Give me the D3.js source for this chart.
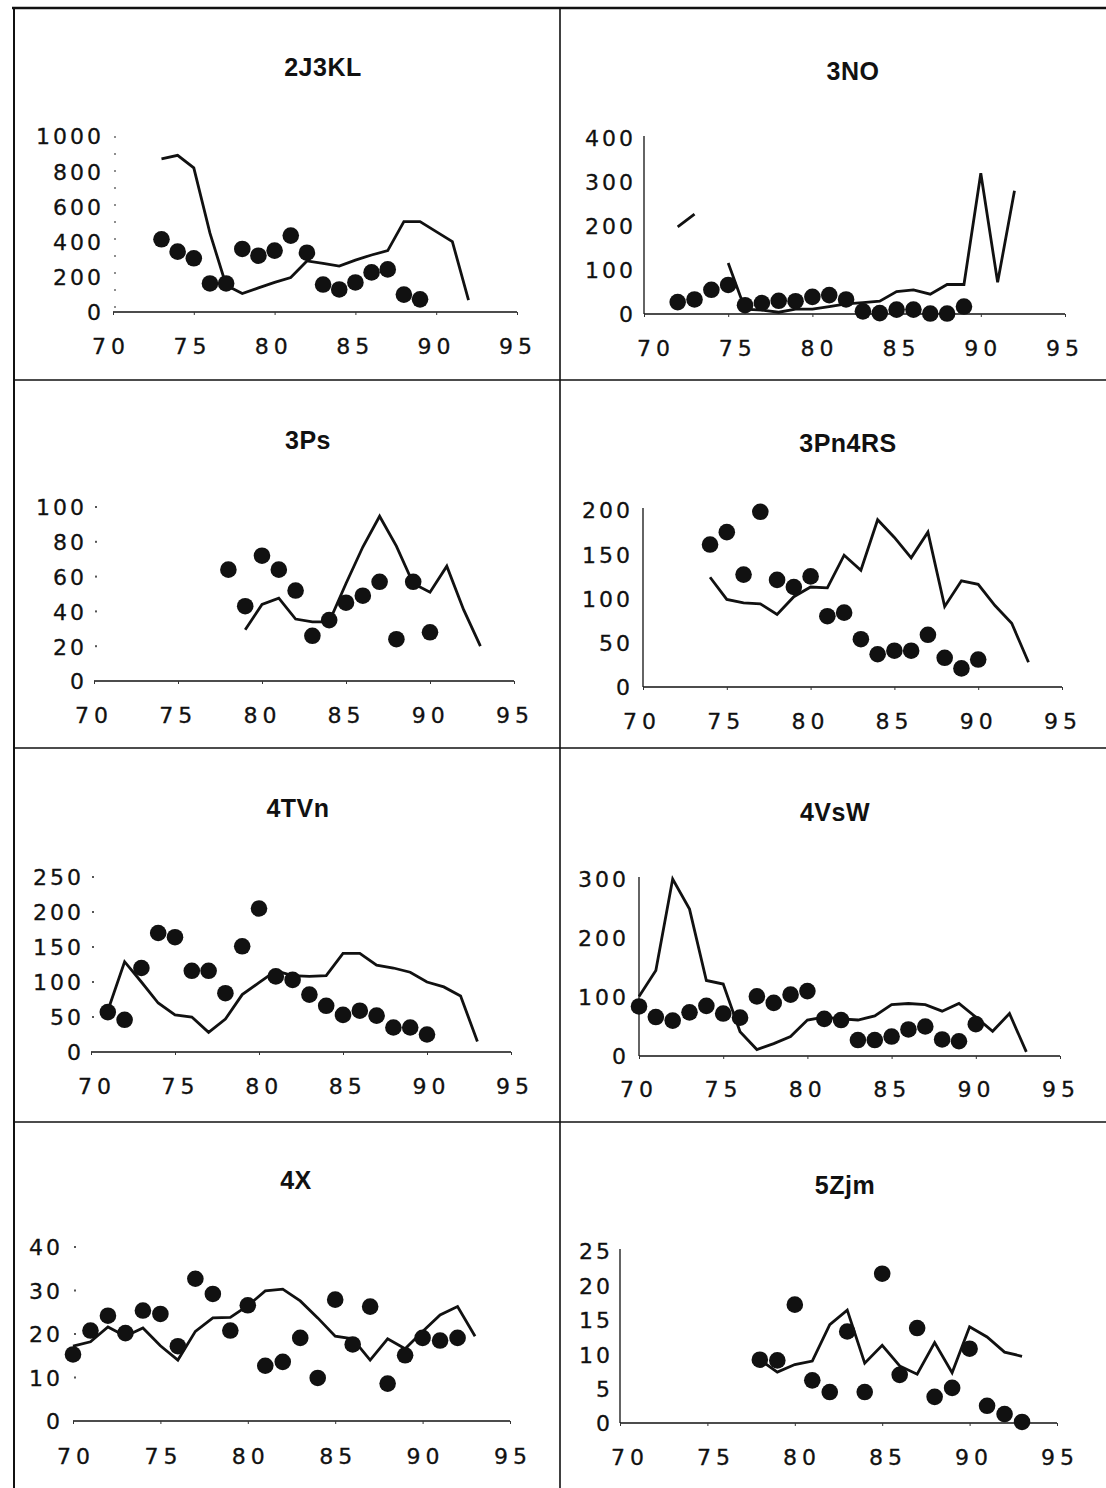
<!DOCTYPE html>
<html>
<head>
<meta charset="utf-8">
<script src="https://cdn.jsdelivr.net/npm/d3@7"></script>
<style>
body { margin: 0; background: #fff; }
svg { display: block; }
.tick-label text { font-family: "DejaVu Sans", "Liberation Sans", Arial, sans-serif; font-size: 22px; fill: #111; stroke: #111; stroke-width: 0.3px; }
.x-label text { letter-spacing: 5px; }
.y-label text { letter-spacing: 3px; }
.panel-title { font-family: "Liberation Sans", Arial, sans-serif; font-weight: bold; font-size: 25px; letter-spacing: 0.5px; fill: #111; }
</style>
</head>
<body>
<svg id="chart" width="1106" height="1488"></svg>
<script>
// ----------------------------------------------------------------------------
// Data (years 19xx)
// ----------------------------------------------------------------------------

var panelNames = ["2J3KL", "3NO", "3Ps", "3Pn4RS", "4TVn", "4VsW", "4X", "5Zjm"];
var xTicks = [70, 75, 80, 85, 90, 95];

var yTicks2J3KL = [0, 200, 400, 600, 800, 1000];
var yTicks3NO = [0, 100, 200, 300, 400];
var yTicks3Ps = [0, 20, 40, 60, 80, 100];
var yTicks3Pn4RS = [0, 50, 100, 150, 200];
var yTicks4TVn = [0, 50, 100, 150, 200, 250];
var yTicks4VsW = [0, 100, 200, 300];
var yTicks4X = [0, 10, 20, 30, 40];
var yTicks5Zjm = [0, 5, 10, 15, 20, 25];

// First year of each dot series and each line series.
var dotStart = [73, 72, 78, 74, 71, 70, 70, 78];
var lineStart = [73, 72, 79, 74, 71, 70, 70, 78];

var dots2J3KL = [413, 343, 305, 162, 162, 358, 320, 349, 434, 337, 156, 128, 168, 225, 242, 99, 72];
var line2J3KL = [870, 890, 819, 448, 152, 105, 137, 168, 196, 290, 276, 261, 295, 324, 349, 514, 514, 457, 400, 67];

var dots3NO = [27, 33, 55, 66, 20, 25, 30, 29, 39, 43, 33, 6, 2, 10, 10, 1, 1, 17];
var line3NO = [198, 227, null, 116, 11, 9, 4, 11, 11, 17, 23, 26, 29, 51, 55, 45, 67, 67, 320, 72, 280];

var dots3Ps = [64, 43, 72, 64, 52, 26, 35, 45, 49, 57, 24, 57, 28];
var line3Ps = [29.5, 44, 47.6, 35.6, 34, 34, 56, 77, 94.7, 77.5, 56, 51, 66, 41, 20];

var dots3Pn4RS = [161, 175, 127, 198, 121, 113, 125, 80, 84, 54, 37, 41, 41, 59, 33, 21, 31];
var line3Pn4RS = [124, 99, 95, 94, 82, 102, 113, 112, 149, 132, 189, 169, 146, 175, 91, 120, 116, 92, 72, 28];

var dots4TVn = [57, 46, 120, 170, 164, 116, 116, 84, 151, 205, 108, 103, 82, 66, 53, 59, 52, 35, 35, 25];
var line4TVn = [59, 129, 100, 70, 53, 50, 28, 47, 82, 99, 116, 109, 108, 109, 141, 141, 124, 120, 114, 100, 93, 80, 15];

var dots4VsW = [84, 66, 60, 74, 85, 72, 65, 101, 90, 104, 110, 63, 61, 27, 27, 33, 45, 50, 28, 25, 54];
var line4VsW = [101, 145, 300, 249, 128, 122, 41, 11, 21, 33, 61, 66, 63, 61, 68, 87, 89, 87, 76, 89, 66, 42, 72, 7];

var dots4X = [15.3, 20.8, 24.2, 20.2, 25.4, 24.6, 17.2, 32.7, 29.2, 20.8, 26.6, 12.7, 13.6, 19.1, 9.9, 27.9, 17.6, 26.3, 8.6, 15.1, 19.1, 18.5, 19.1];
var line4X = [17.2, 18.2, 21.6, 19.5, 21.4, 17.3, 14, 20.6, 23.7, 23.8, 26.5, 29.9, 30.3, 27.6, 23.7, 19.5, 18.9, 14, 18.9, 16.6, 20.6, 24.4, 26.3, 19.5];

var dots5Zjm = [9.2, 9.1, 17.2, 6.2, 4.5, 13.3, 4.5, 21.7, 7, 13.8, 3.8, 5.1, 10.8, 2.5, 1.3, 0.15];
var line5Zjm = [9.2, 7.4, 8.5, 9, 14.3, 16.4, 8.7, 11.3, 8.3, 7.1, 11.7, 7.3, 14, 12.5, 10.3, 9.7];

var allYTicks = [yTicks2J3KL, yTicks3NO, yTicks3Ps, yTicks3Pn4RS, yTicks4TVn, yTicks4VsW, yTicks4X, yTicks5Zjm];
var allDots = [dots2J3KL, dots3NO, dots3Ps, dots3Pn4RS, dots4TVn, dots4VsW, dots4X, dots5Zjm];
var allLines = [line2J3KL, line3NO, line3Ps, line3Pn4RS, line4TVn, line4VsW, line4X, line5Zjm];

// ----------------------------------------------------------------------------
// Layout (page pixels, one entry per panel)
// ----------------------------------------------------------------------------

// ax0/ax1: x-axis ends (years 70/95), lx0/lx1: where the 70/95 labels sit,
// y0/yTop: pixel of 0 and of the top tick.
var layout = [
    {ax0: 113, ax1: 517, lx0: 108, lx1: 515, y0: 312, yTop: 136, labelRight: 101, xLabelY: 346, titleX: 323, titleY: 67, yAxis: "dashed"},
    {ax0: 644, ax1: 1065, lx0: 653, lx1: 1062, y0: 314, yTop: 138, labelRight: 633, xLabelY: 348, titleX: 853, titleY: 71, yAxis: "solid"},
    {ax0: 94, ax1: 514, lx0: 91, lx1: 512, y0: 681, yTop: 507, labelRight: 84, xLabelY: 715, titleX: 308, titleY: 440, yAxis: "dots"},
    {ax0: 643, ax1: 1062, lx0: 639, lx1: 1060, y0: 687, yTop: 510, labelRight: 630, xLabelY: 721, titleX: 848, titleY: 443, yAxis: "solid"},
    {ax0: 91, ax1: 511, lx0: 94, lx1: 512, y0: 1052, yTop: 877, labelRight: 81, xLabelY: 1086, titleX: 298, titleY: 808, yAxis: "dots"},
    {ax0: 639, ax1: 1060, lx0: 636, lx1: 1058, y0: 1056, yTop: 879, labelRight: 626, xLabelY: 1089, titleX: 835, titleY: 812, yAxis: "solid"},
    {ax0: 73, ax1: 510, lx0: 73, lx1: 510, y0: 1421, yTop: 1247, labelRight: 60, xLabelY: 1456, titleX: 296, titleY: 1180, yAxis: "dots"},
    {ax0: 620, ax1: 1057, lx0: 627, lx1: 1057, y0: 1423, yTop: 1251, labelRight: 610, xLabelY: 1457, titleX: 845, titleY: 1185, yAxis: "solid"}
];

var xSpacing = 5;
var ySpacing = 3;

// ----------------------------------------------------------------------------
// Drawing
// ----------------------------------------------------------------------------

var svg = d3.select("#chart");

// Cell borders of the 2 x 4 grid.
function drawGrid() {
    var g = svg.append("g").attr("stroke", "#111").attr("fill", "none");
    g.append("line").attr("x1", 12).attr("x2", 1106).attr("y1", 8).attr("y2", 8).attr("stroke-width", 2.5);
    g.append("line").attr("x1", 14).attr("x2", 14).attr("y1", 7).attr("y2", 1488).attr("stroke-width", 2);
    g.append("line").attr("x1", 560).attr("x2", 560).attr("y1", 8).attr("y2", 1488).attr("stroke-width", 1.6);
    [380, 748, 1122].forEach(function(y) {
        g.append("line").attr("x1", 14).attr("x2", 1106).attr("y1", y).attr("y2", y).attr("stroke-width", 1.6);
    });
}

function years(start, values) {
    return values.map(function(v, i) { return {year: start + i, value: v}; });
}

function drawPanel(i) {
    var L = layout[i];
    var yTicks = allYTicks[i];
    var yMax = yTicks[yTicks.length - 1];

    var x = d3.scaleLinear().domain([70, 95]).range([L.ax0, L.ax1]);
    var xl = d3.scaleLinear().domain([70, 95]).range([L.lx0, L.lx1]);
    var y = d3.scaleLinear().domain([0, yMax]).range([L.y0, L.yTop]);

    var g = svg.append("g");

    // Title
    g.append("text")
        .attr("class", "panel-title")
        .attr("x", L.titleX)
        .attr("y", L.titleY)
        .attr("dy", "0.36em")
        .attr("text-anchor", "middle")
        .text(panelNames[i]);

    // Y axis line
    if (L.yAxis === "solid") {
        g.append("line")
            .attr("x1", x(70)).attr("x2", x(70))
            .attr("y1", y(yMax) - 2).attr("y2", y(0))
            .attr("stroke", "#111").attr("stroke-width", 1.3);
    } else if (L.yAxis === "dashed") {
        g.append("line")
            .attr("x1", x(70) + 2).attr("x2", x(70) + 2)
            .attr("y1", y(yMax)).attr("y2", y(0))
            .attr("stroke", "#444").attr("stroke-width", 1.2)
            .attr("stroke-dasharray", "2,15");
    } else {
        g.selectAll(".ydot")
            .data(yTicks.slice(1))
            .enter().append("rect")
            .attr("x", x(70) + 1).attr("y", function(d) { return y(d) - 1; })
            .attr("width", 2).attr("height", 2)
            .attr("fill", "#555");
    }

    // X axis line with small ticks
    var xAxis = g.append("g")
        .attr("transform", "translate(0," + y(0) + ")")
        .call(d3.axisBottom(x).tickValues(xTicks).tickSize(3).tickFormat(""));
    xAxis.select(".domain").attr("stroke", "#111").attr("stroke-width", 1.6)
        .attr("d", "M" + x(70) + ",0H" + x(95));
    xAxis.selectAll(".tick line").attr("stroke", "#333");

    // X tick labels
    var xLab = g.append("g")
        .attr("class", "tick-label x-label")
        .attr("transform", "translate(0," + L.xLabelY + ")")
        .call(d3.axisBottom(xl).tickValues(xTicks).tickSize(0).tickPadding(0).tickFormat(d3.format("d")));
    xLab.attr("font-size", null).attr("font-family", null);
    xLab.select(".domain").remove();
    xLab.selectAll("text").attr("y", 0).attr("dy", "0.36em").attr("dx", xSpacing / 2);

    // Y tick labels
    var yLab = g.append("g")
        .attr("class", "tick-label y-label")
        .attr("transform", "translate(" + L.labelRight + ",0)")
        .call(d3.axisLeft(y).tickValues(yTicks).tickSize(0).tickPadding(0).tickFormat(d3.format("d")));
    yLab.attr("font-size", null).attr("font-family", null);
    yLab.select(".domain").remove();
    yLab.selectAll("text").attr("x", 0).attr("dy", "0.36em").attr("dx", ySpacing);

    // Line series (gaps are nulls)
    var valueline = d3.line()
        .defined(function(d) { return d.value !== null; })
        .x(function(d) { return x(d.year); })
        .y(function(d) { return y(d.value); });

    g.append("path")
        .datum(years(lineStart[i], allLines[i]))
        .attr("fill", "none")
        .attr("stroke", "#111")
        .attr("stroke-width", 2.8)
        .attr("stroke-linejoin", "miter")
        .attr("d", valueline);

    // Dot series
    g.selectAll(".dot")
        .data(years(dotStart[i], allDots[i]))
        .enter().append("circle")
        .attr("cx", function(d) { return x(d.year); })
        .attr("cy", function(d) { return y(d.value); })
        .attr("r", 8.3)
        .attr("fill", "#111");
}

drawGrid();
for (var p = 0; p < panelNames.length; p++) {
    drawPanel(p);
}
</script>
</body>
</html>
